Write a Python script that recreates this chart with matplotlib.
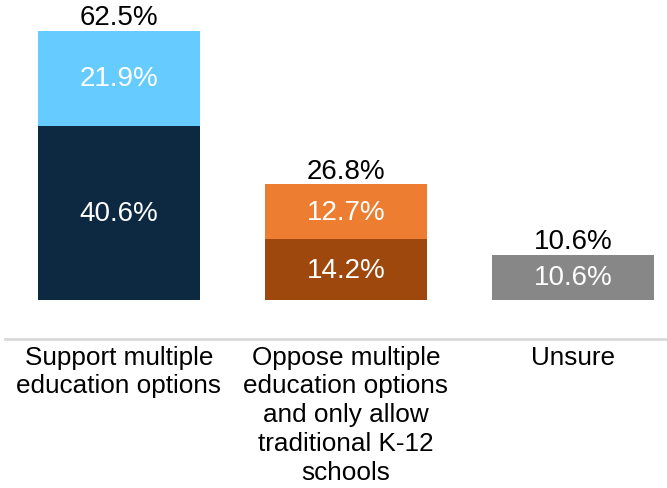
import matplotlib.pyplot as plt
import numpy as np

plt.rcParams['font.family'] = ['Liberation Sans', 'DejaVu Sans']

categories = ['Support multiple\neducation options',
              'Oppose multiple\neducation options\nand only allow\ntraditional K-12\nschools',
              'Unsure']
bottom_vals = [40.6, 14.2, 10.6]
top_vals = [21.9, 12.7, 0.0]
totals = [62.5, 26.8, 10.6]
bottom_colors = ['#0d2841', '#9e480e', '#878787']
top_colors = ['#66ccff', '#ed7d31', '#878787']

fig = plt.figure(figsize=(6.67, 4.89), dpi=100)
# axes spans from top of figure down to the baseline rule (pixel y=340)
ax = fig.add_axes([0.0, 1 - 340 / 489, 1.0, 340 / 489])

x = np.arange(len(categories))
w = 0.714
ax.bar(x, bottom_vals, width=w, color=bottom_colors)
ax.bar(x, top_vals, width=w, bottom=bottom_vals, color=top_colors)

for i in range(len(categories)):
    ax.text(x[i], bottom_vals[i] / 2, f'{bottom_vals[i]:.1f}%', ha='center', va='center',
            color='white', fontsize=20)
    if top_vals[i] > 0:
        ax.text(x[i], bottom_vals[i] + top_vals[i] / 2, f'{top_vals[i]:.1f}%', ha='center',
                va='center', color='white', fontsize=20)
    ax.text(x[i], totals[i] + 0.2, f'{totals[i]:.1f}%', ha='center', va='bottom',
            color='black', fontsize=20)

ax.set_xlim(-0.524, 2.414)
ax.set_ylim(-9.0, 70)
ax.set_yticks([])
ax.set_xticks(x)
ax.set_xticklabels(categories, fontsize=18.8, linespacing=1.25)
ax.tick_params(axis='x', length=0, pad=4)
for s in ['top', 'left', 'right']:
    ax.spines[s].set_visible(False)
ax.spines['bottom'].set_color('#d9d9d9')
ax.spines['bottom'].set_linewidth(2)
ax.spines['bottom'].set_bounds(-0.50, 2.414)

fig.savefig('out.png', dpi=100)
